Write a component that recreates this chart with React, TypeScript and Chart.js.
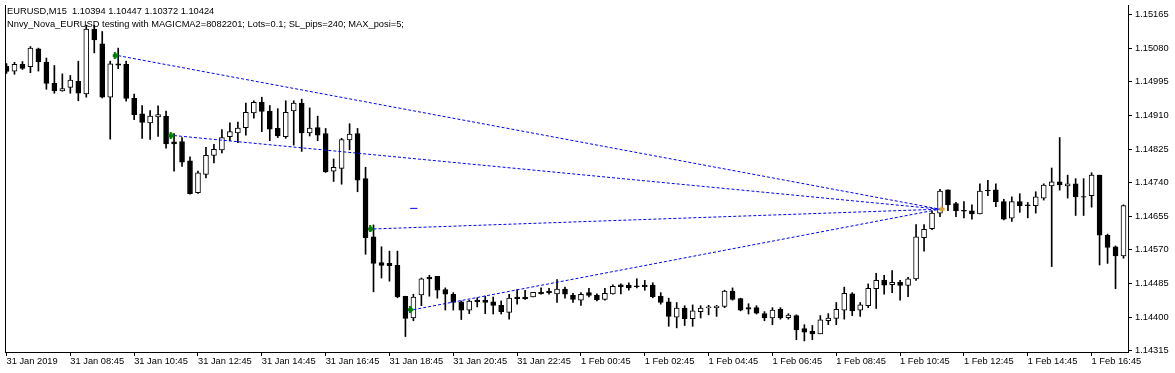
import React, { useEffect, useRef } from 'react';
import { Chart, registerables } from 'chart.js';

Chart.register(...registerables);

// ---- Candle data (EURUSD M15, from 31 Jan 06:45, one value per 15-minute bar) ----
const openP = [
  1.15034, 1.15022, 1.15039, 1.15033, 1.15078, 1.15045, 1.14991, 1.14972, 1.14981, 1.14996,
  1.14964, 1.15128, 1.15091, 1.14956, 1.15040, 1.15039, 1.14953, 1.14914, 1.14891, 1.14906,
  1.14908, 1.14843, 1.14844, 1.14795, 1.14715, 1.14761, 1.14809, 1.14823, 1.14856, 1.14866,
  1.14879, 1.14916, 1.14943, 1.14921, 1.14877, 1.14856, 1.14921, 1.14941, 1.14866, 1.14879,
  1.14864, 1.14769, 1.14776, 1.14848, 1.14864, 1.14750, 1.14603, 1.14538, 1.14536, 1.14531,
  1.14453, 1.14398, 1.14456, 1.14501, 1.14503, 1.14470, 1.14458, 1.14439, 1.14418, 1.14443,
  1.14443, 1.14439, 1.14430, 1.14412, 1.14451, 1.14451, 1.14451, 1.14463, 1.14466, 1.14459,
  1.14471, 1.14455, 1.14443, 1.14462, 1.14456, 1.14445, 1.14459, 1.14482, 1.14481, 1.14479,
  1.14481, 1.14481, 1.14453, 1.14439, 1.14400, 1.14423, 1.14396, 1.14414, 1.14424, 1.14424,
  1.14427, 1.14466, 1.14447, 1.14424, 1.14424, 1.14409, 1.14398, 1.14420, 1.14399, 1.14404,
  1.14371, 1.14364, 1.14358, 1.14391, 1.14397, 1.14418, 1.14459, 1.14418, 1.14429, 1.14472,
  1.14493, 1.14482, 1.14488, 1.14480, 1.14497, 1.14601, 1.14624, 1.14663, 1.14722, 1.14687,
  1.14670, 1.14669, 1.14661, 1.14721, 1.14722, 1.14692, 1.14650, 1.14692, 1.14684, 1.14682,
  1.14701, 1.14732, 1.14742, 1.14732, 1.14737, 1.14705, 1.14707, 1.14759, 1.14607, 1.14578,
  1.14555,
];
const highP = [
  1.15041, 1.15044, 1.15046, 1.15084, 1.15080, 1.15055, 1.15036, 1.15015, 1.15011, 1.15047,
  1.15138, 1.15138, 1.15122, 1.15047, 1.15080, 1.15047, 1.14964, 1.14935, 1.14922, 1.14934,
  1.14921, 1.14864, 1.14854, 1.14805, 1.14769, 1.14829, 1.14837, 1.14874, 1.14891, 1.14893,
  1.14941, 1.14947, 1.14956, 1.14935, 1.14927, 1.14947, 1.14947, 1.14951, 1.14929, 1.14908,
  1.14877, 1.14800, 1.14852, 1.14889, 1.14877, 1.14779, 1.14633, 1.14578, 1.14567, 1.14567,
  1.14453, 1.14458, 1.14499, 1.14506, 1.14503, 1.14474, 1.14462, 1.14441, 1.14443, 1.14449,
  1.14453, 1.14451, 1.14441, 1.14458, 1.14470, 1.14468, 1.14463, 1.14474, 1.14473, 1.14495,
  1.14476, 1.14460, 1.14462, 1.14473, 1.14459, 1.14473, 1.14482, 1.14484, 1.14487, 1.14497,
  1.14493, 1.14487, 1.14462, 1.14448, 1.14437, 1.14429, 1.14431, 1.14429, 1.14430, 1.14430,
  1.14468, 1.14474, 1.14448, 1.14434, 1.14429, 1.14414, 1.14424, 1.14424, 1.14409, 1.14406,
  1.14381, 1.14379, 1.14404, 1.14409, 1.14437, 1.14476, 1.14462, 1.14437, 1.14484, 1.14511,
  1.14506, 1.14518, 1.14493, 1.14501, 1.14634, 1.14634, 1.14669, 1.14723, 1.14722, 1.14690,
  1.14692, 1.14684, 1.14737, 1.14746, 1.14737, 1.14698, 1.14704, 1.14712, 1.14690, 1.14717,
  1.14737, 1.14777, 1.14854, 1.14759, 1.14750, 1.14750, 1.14765, 1.14759, 1.14610, 1.14580,
  1.14684,
];
const lowP = [
  1.15016, 1.15014, 1.15026, 1.15018, 1.15022, 1.14976, 1.14966, 1.14971, 1.14966, 1.14947,
  1.14956, 1.15068, 1.14954, 1.14850, 1.15028, 1.14946, 1.14899, 1.14852, 1.14849, 1.14857,
  1.14827, 1.14769, 1.14781, 1.14711, 1.14713, 1.14752, 1.14790, 1.14815, 1.14846, 1.14841,
  1.14860, 1.14903, 1.14869, 1.14846, 1.14854, 1.14852, 1.14835, 1.14819, 1.14858, 1.14846,
  1.14766, 1.14743, 1.14736, 1.14823, 1.14717, 1.14559, 1.14464, 1.14499, 1.14491, 1.14449,
  1.14351, 1.14391, 1.14429, 1.14453, 1.14448, 1.14418, 1.14418, 1.14394, 1.14409, 1.14426,
  1.14409, 1.14408, 1.14408, 1.14395, 1.14433, 1.14445, 1.14451, 1.14458, 1.14458, 1.14437,
  1.14448, 1.14437, 1.14430, 1.14451, 1.14441, 1.14443, 1.14458, 1.14459, 1.14468, 1.14474,
  1.14468, 1.14449, 1.14433, 1.14377, 1.14373, 1.14379, 1.14377, 1.14398, 1.14406, 1.14402,
  1.14424, 1.14443, 1.14416, 1.14408, 1.14408, 1.14391, 1.14381, 1.14395, 1.14395, 1.14343,
  1.14340, 1.14343, 1.14358, 1.14381, 1.14381, 1.14395, 1.14404, 1.14402, 1.14424, 1.14422,
  1.14458, 1.14462, 1.14443, 1.14452, 1.14493, 1.14567, 1.14621, 1.14654, 1.14669, 1.14654,
  1.14651, 1.14648, 1.14661, 1.14707, 1.14679, 1.14646, 1.14642, 1.14665, 1.14651, 1.14663,
  1.14696, 1.14528, 1.14721, 1.14701, 1.14657, 1.14657, 1.14678, 1.14532, 1.14536, 1.14472,
  1.14549,
];
const closeP = [
  1.15021, 1.15039, 1.15029, 1.15080, 1.15045, 1.14991, 1.14972, 1.14978, 1.14999, 1.14966,
  1.15128, 1.15101, 1.14956, 1.15040, 1.15037, 1.14953, 1.14912, 1.14892, 1.14908, 1.14912,
  1.14838, 1.14838, 1.14792, 1.14712, 1.14765, 1.14809, 1.14824, 1.14854, 1.14869, 1.14878,
  1.14918, 1.14943, 1.14920, 1.14875, 1.14858, 1.14918, 1.14941, 1.14866, 1.14878, 1.14860,
  1.14767, 1.14779, 1.14849, 1.14863, 1.14746, 1.14601, 1.14536, 1.14531, 1.14530, 1.14451,
  1.14397, 1.14451, 1.14497, 1.14497, 1.14468, 1.14458, 1.14437, 1.14418, 1.14441, 1.14439,
  1.14437, 1.14430, 1.14414, 1.14448, 1.14447, 1.14447, 1.14463, 1.14459, 1.14462, 1.14471,
  1.14458, 1.14445, 1.14458, 1.14455, 1.14444, 1.14460, 1.14478, 1.14477, 1.14474, 1.14477,
  1.14477, 1.14452, 1.14437, 1.14402, 1.14423, 1.14396, 1.14416, 1.14423, 1.14426, 1.14428,
  1.14466, 1.14445, 1.14418, 1.14420, 1.14410, 1.14398, 1.14418, 1.14398, 1.14405, 1.14368,
  1.14362, 1.14358, 1.14393, 1.14398, 1.14420, 1.14460, 1.14416, 1.14431, 1.14473, 1.14493,
  1.14481, 1.14488, 1.14480, 1.14497, 1.14603, 1.14622, 1.14663, 1.14719, 1.14684, 1.14669,
  1.14668, 1.14661, 1.14719, 1.14719, 1.14692, 1.14648, 1.14692, 1.14682, 1.14682, 1.14704,
  1.14734, 1.14742, 1.14734, 1.14737, 1.14704, 1.14703, 1.14759, 1.14607, 1.14576, 1.14555,
  1.14682,
];

// ---- Axis labels ----
const timeTickLabels = [
  '31 Jan 2019', '31 Jan 08:45', '31 Jan 10:45', '31 Jan 12:45', '31 Jan 14:45', '31 Jan 16:45',
  '31 Jan 18:45', '31 Jan 20:45', '31 Jan 22:45', '1 Feb 00:45', '1 Feb 02:45', '1 Feb 04:45',
  '1 Feb 06:45', '1 Feb 08:45', '1 Feb 10:45', '1 Feb 12:45', '1 Feb 14:45', '1 Feb 16:45',
];
const barsPerTimeTick = 8;
const priceTicks = [
  1.14315, 1.14400, 1.14485, 1.14570, 1.14655, 1.14740, 1.14825, 1.14910, 1.14995, 1.15080, 1.15165,
];
const priceMin = 1.14312;
const priceMax = 1.15189;

// ---- Trades (bar index, price) ----
const entryBar = [14, 21, 46, 51];
const entryPrice = [1.15061, 1.14859, 1.14623, 1.14419];
const exitBar = 117;
const exitPrice = 1.14673;
const markBars = [50.6, 51.5];
const markPrice = 1.14675;

const titleLines = [
  'EURUSD,M15  1.10394 1.10447 1.10372 1.10424',
  'Nnvy_Nova_EURUSD testing with MAGICMA2=8082201; Lots=0.1; SL_pips=240; MAX_posi=5;',
];

function pickFont() {
  try {
    const g = document.createElement('canvas').getContext('2d')!;
    const s = '1.15165 31 Jan 08:45';
    g.font = '11px "Liberation Sans Narrow", monospace';
    const a = g.measureText(s).width;
    g.font = '11px monospace';
    const b = g.measureText(s).width;
    if (Math.abs(a - b) > 0.5) {
      return { family: '"Liberation Sans Narrow", "Liberation Sans", sans-serif', size: 11 };
    }
  } catch (e) {
    /* ignore */
  }
  return { family: '"Liberation Sans", Arial, sans-serif', size: 9.3 };
}

function makeEntryArrow() {
  const c = document.createElement('canvas');
  c.width = 13;
  c.height = 7;
  const g = c.getContext('2d')!;
  g.fillStyle = '#008000';
  g.fillRect(1, 2, 4, 3);
  g.fillRect(2, 0, 2, 7);
  g.beginPath();
  g.moveTo(4, 0.5);
  g.lineTo(7, 3.5);
  g.lineTo(4, 6.5);
  g.closePath();
  g.fill();
  return c;
}

function makeExitArrow() {
  const c = document.createElement('canvas');
  c.width = 13;
  c.height = 7;
  const g = c.getContext('2d')!;
  g.fillStyle = '#E0A030';
  g.beginPath();
  g.moveTo(5, 3.5);
  g.lineTo(8.5, 0);
  g.lineTo(8.5, 7);
  g.closePath();
  g.fill();
  g.fillRect(8, 2, 3, 3);
  return c;
}

export default function App() {
  const canvasRef = useRef<HTMLCanvasElement | null>(null);

  useEffect(() => {
    const canvas = canvasRef.current;
    if (!canvas) return;
    const font = pickFont();
    Chart.defaults.color = '#000';

    const idx = openP.map((_, i) => i);
    const wickData = idx.map((i) => ({ x: i, y: [lowP[i], highP[i]] }));
    const bodyData = idx.map((i) => ({
      x: i,
      y: [Math.min(openP[i], closeP[i]), Math.max(openP[i], closeP[i])],
    }));
    const bodyColors = idx.map((i) => (closeP[i] > openP[i] ? '#ffffff' : '#000000'));

    const tradeLines = entryBar.map((b, k) => ({
      type: 'line' as const,
      data: [
        { x: b, y: entryPrice[k] },
        { x: exitBar, y: exitPrice },
      ],
      borderColor: '#0000ff',
      borderWidth: 1,
      borderDash: [3, 2],
      pointRadius: 0,
      fill: false,
      order: 1,
    }));

    const overlayText = {
      id: 'overlayText',
      beforeDatasetsDraw(chart: any) {
        const ctx = chart.ctx;
        const area = chart.chartArea;
        ctx.save();
        ctx.fillStyle = '#000';
        ctx.fillRect(area.left, area.top, 1, area.bottom - area.top);
        ctx.font = `${font.size}px ${font.family}`;
        ctx.textBaseline = 'alphabetic';
        ctx.textAlign = 'left';
        ctx.fillText(titleLines[0], 7, 14);
        ctx.fillText(titleLines[1], 7, 27);
        ctx.restore();
      },
    };

    const chart = new Chart(canvas, {
      type: 'bar',
      data: {
        datasets: [
          {
            type: 'bar',
            data: wickData as any,
            backgroundColor: '#000',
            borderWidth: 0,
            barThickness: 1,
            grouped: false,
            order: 3,
          },
          {
            type: 'bar',
            data: bodyData as any,
            backgroundColor: bodyColors,
            borderColor: '#000',
            borderWidth: 1,
            borderSkipped: false,
            barThickness: 5,
            grouped: false,
            order: 2,
          },
          ...tradeLines,
          {
            type: 'line',
            data: markBars.map((x) => ({ x, y: markPrice })),
            borderColor: '#0000ff',
            borderWidth: 1,
            pointRadius: 0,
            order: 1,
          },
          {
            type: 'line',
            data: entryBar.map((b, k) => ({ x: b, y: entryPrice[k] })),
            showLine: false,
            pointStyle: makeEntryArrow() as any,
            pointRadius: 3,
            order: 0,
          },
          {
            type: 'line',
            data: [{ x: exitBar, y: exitPrice }],
            showLine: false,
            pointStyle: makeExitArrow() as any,
            pointRadius: 3,
            order: 0,
          },
        ] as any,
      },
      options: {
        animation: false,
        responsive: false,
        maintainAspectRatio: false,
        events: [],
        layout: { padding: { left: 2, right: 0, top: 0, bottom: 0 } },
        plugins: { legend: { display: false }, tooltip: { enabled: false }, title: { display: false } },
        scales: {
          x: {
            type: 'linear',
            min: -0.1875,
            max: 140.5625,
            offset: false,
            grid: {
              display: true,
              drawOnChartArea: false,
              drawTicks: true,
              tickLength: 4,
              color: '#000',
              offset: false,
            },
            border: { display: true, color: '#000', width: 1 },
            ticks: {
              autoSkip: false,
              maxRotation: 0,
              minRotation: 0,
              align: 'start',
              padding: 0,
              color: '#000',
              font: { family: font.family, size: font.size },
              callback: (v: any) => timeTickLabels[Math.round(Number(v) / barsPerTimeTick)] ?? '',
            },
            afterBuildTicks: (s: any) => {
              s.ticks = timeTickLabels.map((_, k) => ({ value: k * barsPerTimeTick }));
            },
            afterFit: (s: any) => {
              s.height = 21;
              s.paddingLeft = 0;
              s.paddingRight = 0;
            },
          },
          y: {
            type: 'linear',
            position: 'right',
            min: priceMin,
            max: priceMax,
            grid: {
              display: true,
              drawOnChartArea: false,
              drawTicks: true,
              tickLength: 4,
              color: '#000',
            },
            border: { display: true, color: '#000', width: 1 },
            ticks: {
              padding: 3,
              color: '#000',
              font: { family: font.family, size: font.size },
              callback: (v: any) => Number(v).toFixed(5),
            },
            afterBuildTicks: (s: any) => {
              s.ticks = priceTicks.map((value) => ({ value }));
            },
            afterFit: (s: any) => {
              s.width = 47;
              s.paddingTop = 0;
              s.paddingBottom = 0;
            },
          },
        },
      } as any,
      plugins: [overlayText],
    });

    return () => chart.destroy();
  }, []);

  return (
    <div style={{ position: 'fixed', left: 0, top: 0, width: 1175, height: 373, background: '#fff' }}>
      <canvas ref={canvasRef} width={1175} height={373} style={{ display: 'block' }} />
    </div>
  );
}
